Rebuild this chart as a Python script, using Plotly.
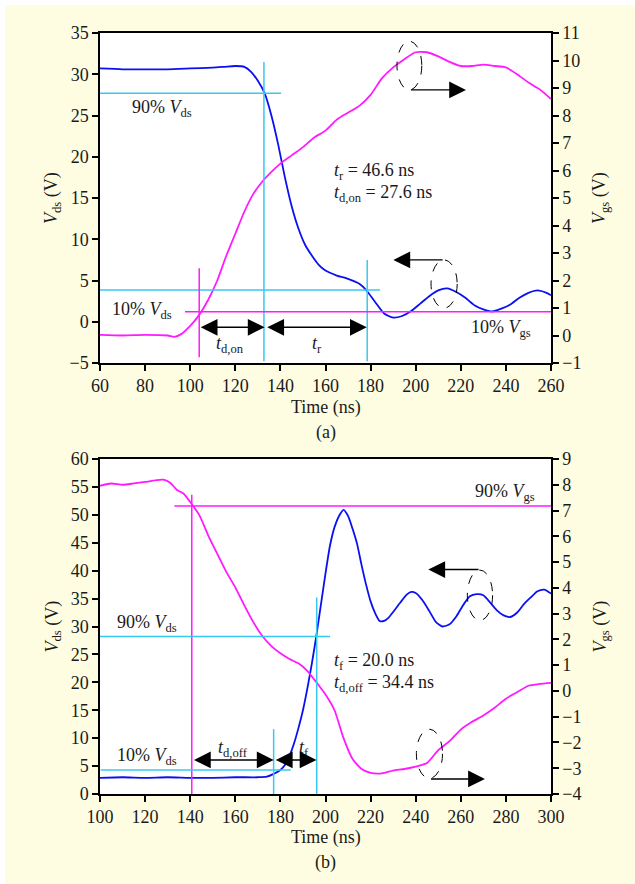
import plotly.graph_objects as go

# ---------------- Panel (a): turn-on ----------------
ta_vds = [60,70,80,90,100,110,115,120,124,127,130,133,136,139,142,145,148,151,154,157,160,165,170,175,178,182,186,190,194,198,202,206,210,214,218,222,226,230,234,238,242,246,250,254,258,260]
vds_a = [30.7,30.6,30.6,30.6,30.7,30.8,30.9,31.0,30.9,30.3,29.2,27.7,25.0,21.5,17.5,14.0,11.3,9.3,8.0,6.9,6.2,5.6,5.2,4.6,3.85,2.4,1.0,0.5,0.7,1.3,2.2,3.1,3.8,4.05,3.6,2.9,2.0,1.5,1.25,1.6,2.1,2.9,3.5,3.8,3.5,3.2]

ta_vgs = [60,70,80,90,93,96,100,104,108,112,116,120,124,128,132,136,140,145,150,155,160,165,170,175,180,185,190,195,200,205,210,215,220,225,230,235,240,245,250,255,260]
vgs_a = [0.02,0.0,0.02,0.0,-0.05,0.05,0.35,0.75,1.3,2.0,2.9,3.7,4.5,5.15,5.6,5.95,6.25,6.55,6.85,7.2,7.45,7.85,8.1,8.35,8.75,9.35,9.75,10.05,10.3,10.3,10.15,9.95,9.8,9.8,9.85,9.8,9.75,9.5,9.2,8.95,8.6]

# ---------------- Panel (b): turn-off ----------------
tb_vds = [100,110,120,130,140,150,160,170,174,177,180,182,184,186,188,190,192,194,196,198,200,202,204,206,208,210,212,214,216,218,220,222,224,226,228,230,233,236,238,240,243,246,249,252,255,258,261,264,267,270,273,276,279,282,285,288,291,294,297,300]
vds_b = [2.9,3.0,2.9,3.0,2.9,2.9,3.0,3.0,3.1,3.6,4.3,5.2,6.8,9.0,11.8,15.0,19.0,23.5,28.5,34.0,39.5,44.5,47.8,49.8,50.9,49.8,47.5,44.8,41.0,37.5,34.5,32.4,31.0,31.0,31.6,32.6,34.2,35.7,36.2,36.0,34.7,32.8,30.8,30.0,30.4,31.8,33.8,35.4,35.8,35.6,34.3,32.9,32.0,31.7,32.5,34.0,35.2,36.3,36.6,35.9]

tb_vgs = [100,105,110,115,120,125,128,131,134,137,140,144,148,152,156,160,164,168,172,176,180,184,188,192,196,200,204,208,212,216,220,225,230,235,240,245,250,255,260,265,270,275,280,285,290,295,300]
vgs_b = [7.96,8.05,8.00,8.05,8.11,8.18,8.20,8.09,7.81,7.66,7.33,6.83,6.03,5.32,4.62,4.02,3.32,2.67,2.13,1.74,1.46,1.24,1.07,0.77,0.33,-0.14,-0.75,-1.83,-2.64,-3.03,-3.18,-3.20,-3.09,-3.03,-2.94,-2.80,-2.30,-1.95,-1.50,-1.20,-0.95,-0.65,-0.30,-0.05,0.20,0.27,0.31]

# axis ranges / ticks
xa_range, ya_range, ya2_range = [60, 260], [-5, 35], [-1, 11]
xb_range, yb_range, yb2_range = [100, 300], [0, 60], [-4, 9]

BLUE = "#0A10F0"
MAG = "#FF1AFF"
CYAN = "#38C8F4"
FONT = "Liberation Serif, Times New Roman, serif"
TXT = "#1a1a1a"
FS = 18
W, H = 635, 884

fig = go.Figure()
fig.add_trace(go.Scatter(x=ta_vds, y=vds_a, mode="lines", line=dict(color=BLUE, width=1.8, shape="spline", smoothing=0.6), xaxis="x", yaxis="y"))
fig.add_trace(go.Scatter(x=ta_vgs, y=vgs_a, mode="lines", line=dict(color=MAG, width=1.8, shape="spline", smoothing=0.6), xaxis="x", yaxis="y2"))
fig.add_trace(go.Scatter(x=tb_vds, y=vds_b, mode="lines", line=dict(color=BLUE, width=1.8, shape="spline", smoothing=0.6), xaxis="x2", yaxis="y3"))
fig.add_trace(go.Scatter(x=tb_vgs, y=vgs_b, mode="lines", line=dict(color=MAG, width=1.8, shape="spline", smoothing=0.6), xaxis="x2", yaxis="y4"))

xdom = [100 / W, 551 / W]
dom_a = [1 - 363 / H, 1 - 33 / H]
dom_b = [1 - 794 / H, 1 - 459 / H]

def ax(**kw):
    d = dict(showgrid=False, zeroline=False, ticks="outside", ticklen=6, tickwidth=1.5,
             tickcolor="black", linecolor="black", linewidth=1.5, showline=True, automargin=False,
             tickfont=dict(family=FONT, size=FS, color=TXT))
    d.update(kw)
    return d

fig.update_layout(
    template="none",
    width=W, height=H, margin=dict(l=0, r=0, t=0, b=0, pad=0), autosize=False,
    paper_bgcolor="#FFFDE1", plot_bgcolor="white", showlegend=False,
    xaxis=ax(domain=xdom, range=xa_range, dtick=20, anchor="y", mirror=True),
    yaxis=ax(domain=dom_a, range=ya_range, dtick=5, anchor="x", mirror=True),
    yaxis2=ax(range=ya2_range, dtick=1, overlaying="y", side="right", anchor="x"),
    xaxis2=ax(domain=xdom, range=xb_range, dtick=20, anchor="y3", mirror=True),
    yaxis3=ax(domain=dom_b, range=yb_range, dtick=5, anchor="x2", mirror=True),
    yaxis4=ax(range=yb2_range, dtick=1, overlaying="y3", side="right", anchor="x2"),
)

shapes = []
# white strips top/left
shapes.append(dict(type="rect", xref="paper", yref="paper", x0=0, x1=1, y0=1 - 5 / H, y1=1, fillcolor="white", line=dict(width=0), layer="below"))
shapes.append(dict(type="rect", xref="paper", yref="paper", x0=0, x1=5 / W, y0=0, y1=1, fillcolor="white", line=dict(width=0), layer="below"))

def seg(xr, yr, x0, x1, y0, y1, color, w=1.5):
    shapes.append(dict(type="line", xref=xr, yref=yr, x0=x0, x1=x1, y0=y0, y1=y1, line=dict(color=color, width=w), layer="above"))

def ell(xr, yr, x0, x1, y0, y1):
    shapes.append(dict(type="circle", xref=xr, yref=yr, x0=x0, x1=x1, y0=y0, y1=y1, line=dict(color="black", width=1, dash="dash"), layer="above"))

# panel (a) guide lines
seg("x", "y", 60, 140.3, 27.7, 27.7, CYAN)
seg("x", "y", 132.7, 132.7, -4.8, 31.5, CYAN)
seg("x", "y", 60, 184.2, 3.85, 3.85, CYAN)
seg("x", "y", 178.5, 178.5, -4.8, 7.5, CYAN)
seg("x", "y", 104, 104, -4.3, 6.5, MAG)
seg("x", "y", 97.7, 260, 1.2, 1.2, MAG)
ell("x", "y", 191.7, 202.7, 28.1, 34.0)
ell("x", "y", 206.8, 218.4, 1.65, 7.5)

# panel (b) guide lines
seg("x2", "y3", 133, 300, 51.6, 51.6, MAG)
seg("x2", "y3", 140.7, 140.7, 0, 53.6, MAG)
seg("x2", "y3", 100, 202, 28.2, 28.2, CYAN)
seg("x2", "y3", 196.1, 196.1, 0, 35.2, CYAN)
seg("x2", "y3", 100.3, 184.6, 4.3, 4.3, CYAN)
seg("x2", "y3", 177.0, 177.0, 0, 11.6, CYAN)
ell("x2", "y3", 262.9, 274.1, 31.1, 40.1)
ell("x2", "y3", 240.3, 251.9, 2.8, 11.6)

fig.update_layout(shapes=shapes)

ann = []

def txt(xr, yr, x, y, s, xanchor="center", size=FS):
    ann.append(dict(xref=xr, yref=yr, x=x, y=y, text=s, showarrow=False, xanchor=xanchor, yanchor="middle",
                    font=dict(family=FONT, size=size, color=TXT)))

def arrow(xr, yr, x_tip, y_tip, x_tail, y_tail, double=False):
    d = dict(xref=xr, yref=yr, axref=xr, ayref=yr, x=x_tip, y=y_tip, ax=x_tail, ay=y_tail, text="",
             showarrow=True, arrowhead=2, arrowsize=2.4, arrowwidth=1.4, arrowcolor="black")
    if double:
        d.update(arrowside="end+start", startarrowhead=2, startarrowsize=2.4)
    ann.append(d)

# panel (a) texts
txt("x", "y", 87.5, 25.9, "90% <i>V</i><sub>ds</sub>")
txt("x", "y", 78.5, 1.4, "10% <i>V</i><sub>ds</sub>")
txt("x", "y", 238, -0.8, "10% <i>V</i><sub>gs</sub>")
txt("x", "y", 117.7, -2.7, "<i>t</i><sub>d,on</sub>")
txt("x", "y", 156.2, -2.8, "<i>t</i><sub>r</sub>")
txt("x", "y", 162.7, 18.2, "<i>t</i><sub>r</sub> = 46.6 ns", xanchor="left")
txt("x", "y", 162.7, 15.6, "<i>t</i><sub>d,on</sub> = 27.6 ns", xanchor="left")
arrow("x", "y", 133, -0.67, 104, -0.67, double=True)
arrow("x", "y", 178.3, -0.67, 133.5, -0.67, double=True)
arrow("x", "y", 222.3, 28.1, 197.2, 28.1)
arrow("x", "y", 190.1, 7.5, 212.6, 7.5)

# panel (b) texts
txt("x2", "y3", 279.4, 54.0, "90% <i>V</i><sub>gs</sub>")
txt("x2", "y3", 120.9, 30.6, "90% <i>V</i><sub>ds</sub>")
txt("x2", "y3", 120.7, 6.8, "10% <i>V</i><sub>ds</sub>")
txt("x2", "y3", 159.1, 8.1, "<i>t</i><sub>d,off</sub>")
txt("x2", "y3", 190.5, 8.2, "<i>t</i><sub>f</sub>")
txt("x2", "y3", 203, 23.8, "<i>t</i><sub>f</sub> = 20.0 ns", xanchor="left")
txt("x2", "y3", 203, 19.8, "<i>t</i><sub>d,off</sub> = 34.4 ns", xanchor="left")
arrow("x2", "y3", 177, 6.1, 141, 6.1, double=True)
arrow("x2", "y3", 196, 6.1, 177.3, 6.1, double=True)
arrow("x2", "y3", 245.6, 40.2, 268.5, 40.2)
arrow("x2", "y3", 270.7, 2.7, 246.1, 2.7)

# axis titles & panel labels (paper coords)
def ptxt(x_px, y_px, s, angle=0):
    ann.append(dict(xref="paper", yref="paper", x=x_px / W, y=1 - y_px / H, text=s, showarrow=False,
                    xanchor="center", yanchor="middle", textangle=angle,
                    font=dict(family=FONT, size=FS, color=TXT)))

ptxt(53, 198, "<i>V</i><sub>ds</sub> (V)", -90)
ptxt(601, 198, "<i>V</i><sub>gs</sub> (V)", -90)
ptxt(325.5, 407.5, "Time (ns)")
ptxt(325.5, 432, "(a)")
ptxt(53, 626.5, "<i>V</i><sub>ds</sub> (V)", -90)
ptxt(601, 626.5, "<i>V</i><sub>gs</sub> (V)", -90)
ptxt(325.5, 837.5, "Time (ns)")
ptxt(325.5, 862, "(b)")

fig.update_layout(annotations=ann)
fig.write_html("out.html", config={"displayModeBar": False},
               post_script="document.body.style.margin='0';document.body.style.padding='0';")
